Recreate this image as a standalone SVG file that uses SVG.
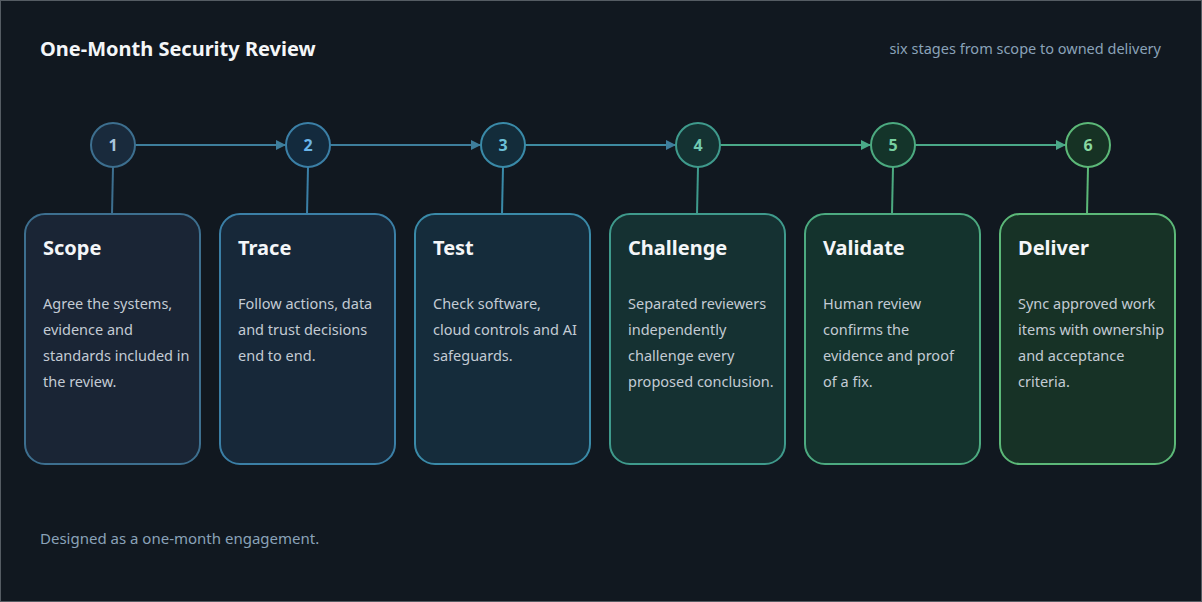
<svg xmlns="http://www.w3.org/2000/svg" width="1202" height="602" viewBox="0 0 1202 602">
<style>
text{font-family:"Noto Sans","Open Sans",sans-serif}
.t{font-size:20px;font-weight:700;fill:#f4f6f8}
.b{font-size:14.5px;fill:#c3cbd4}
.n{font-size:16px;font-weight:700;text-anchor:middle}
.card{stroke-width:2}
</style>
<defs>
<marker id="a1" markerWidth="10" markerHeight="10" refX="9" refY="5" orient="auto" markerUnits="userSpaceOnUse"><path d="M0,0 L10,5 L0,10Z" fill="#3e7e9c"/></marker>
<marker id="a2" markerWidth="10" markerHeight="10" refX="9" refY="5" orient="auto" markerUnits="userSpaceOnUse"><path d="M0,0 L10,5 L0,10Z" fill="#4aa888"/></marker>
</defs>
<rect x="0.5" y="0.5" width="1201" height="601" fill="#111820" stroke="#555c63"/>
<text x="40" y="56" style="font-size:20px;font-weight:700;fill:#f4f6f8">One-Month Security Review</text>
<text x="1161" y="54" style="font-size:14.5px;fill:#8aa2b8;text-anchor:end">six stages from scope to owned delivery</text>
<text x="40" y="544" style="font-size:15px;fill:#8aa2b8">Designed as a one-month engagement.</text>
<g id="connectors" stroke-width="2" fill="none">
<line x1="135" y1="145" x2="285" y2="145" stroke="#3e7e9c" marker-end="url(#a1)"/>
<line x1="330" y1="145" x2="480" y2="145" stroke="#3e7e9c" marker-end="url(#a1)"/>
<line x1="525" y1="145" x2="675" y2="145" stroke="#3e8aa0" marker-end="url(#a1)"/>
<line x1="720" y1="145" x2="870" y2="145" stroke="#4aa888" marker-end="url(#a2)"/>
<line x1="915" y1="145" x2="1065" y2="145" stroke="#4aa888" marker-end="url(#a2)"/>
<line x1="113" y1="167" x2="112" y2="214" stroke="#3d6f8f"/>
<line x1="308" y1="167" x2="307" y2="214" stroke="#3b7fa6"/>
<line x1="503" y1="167" x2="502" y2="214" stroke="#3a8aa8"/>
<line x1="698" y1="167" x2="697" y2="214" stroke="#3f9a8c"/>
<line x1="893" y1="167" x2="892" y2="214" stroke="#4caa80"/>
<line x1="1088" y1="167" x2="1087" y2="214" stroke="#5cb878"/>
</g>
<g id="node1">
<circle cx="113" cy="145" r="22" fill="#192a3c" stroke="#3d6f8f" stroke-width="2"/>
<text x="113" y="151" class="n" fill="#a8c4dc">1</text>
<rect x="25" y="214" width="175" height="250" rx="20" fill="#1a2535" stroke="#3d6f8f" class="card"/>
<text x="43" y="255" class="t">Scope</text>
<text class="b"><tspan x="43" y="309">Agree the systems,</tspan><tspan x="43" y="335">evidence and</tspan><tspan x="43" y="361">standards included in</tspan><tspan x="43" y="387">the review.</tspan></text>
</g>
<g id="node2">
<circle cx="308" cy="145" r="22" fill="#132a3d" stroke="#3b7fa6" stroke-width="2"/>
<text x="308" y="151" class="n" fill="#6ab4e8">2</text>
<rect x="220" y="214" width="175" height="250" rx="20" fill="#172839" stroke="#3b7fa6" class="card"/>
<text x="238" y="255" class="t">Trace</text>
<text class="b"><tspan x="238" y="309">Follow actions, data</tspan><tspan x="238" y="335">and trust decisions</tspan><tspan x="238" y="361">end to end.</tspan></text>
</g>
<g id="node3">
<circle cx="503" cy="145" r="22" fill="#132c3a" stroke="#3a8aa8" stroke-width="2"/>
<text x="503" y="151" class="n" fill="#6cc0d8">3</text>
<rect x="415" y="214" width="175" height="250" rx="20" fill="#152c3b" stroke="#3a8aa8" class="card"/>
<text x="433" y="255" class="t">Test</text>
<text class="b"><tspan x="433" y="309">Check software,</tspan><tspan x="433" y="335">cloud controls and AI</tspan><tspan x="433" y="361">safeguards.</tspan></text>
</g>
<g id="node4">
<circle cx="698" cy="145" r="22" fill="#143232" stroke="#3f9a8c" stroke-width="2"/>
<text x="698" y="151" class="n" fill="#70c8b0">4</text>
<rect x="610" y="214" width="175" height="250" rx="20" fill="#153132" stroke="#3f9a8c" class="card"/>
<text x="628" y="255" class="t">Challenge</text>
<text class="b"><tspan x="628" y="309">Separated reviewers</tspan><tspan x="628" y="335">independently</tspan><tspan x="628" y="361">challenge every</tspan><tspan x="628" y="387">proposed conclusion.</tspan></text>
</g>
<g id="node5">
<circle cx="893" cy="145" r="22" fill="#14342a" stroke="#4caa80" stroke-width="2"/>
<text x="893" y="151" class="n" fill="#78d0a0">5</text>
<rect x="805" y="214" width="175" height="250" rx="20" fill="#14332d" stroke="#4caa80" class="card"/>
<text x="823" y="255" class="t">Validate</text>
<text class="b"><tspan x="823" y="309">Human review</tspan><tspan x="823" y="335">confirms the</tspan><tspan x="823" y="361">evidence and proof</tspan><tspan x="823" y="387">of a fix.</tspan></text>
</g>
<g id="node6">
<circle cx="1088" cy="145" r="22" fill="#163224" stroke="#5cb878" stroke-width="2"/>
<text x="1088" y="151" class="n" fill="#88d8a0">6</text>
<rect x="1000" y="214" width="175" height="250" rx="20" fill="#173226" stroke="#5cb878" class="card"/>
<text x="1018" y="255" class="t">Deliver</text>
<text class="b"><tspan x="1018" y="309">Sync approved work</tspan><tspan x="1018" y="335">items with ownership</tspan><tspan x="1018" y="361">and acceptance</tspan><tspan x="1018" y="387">criteria.</tspan></text>
</g>
</svg>
